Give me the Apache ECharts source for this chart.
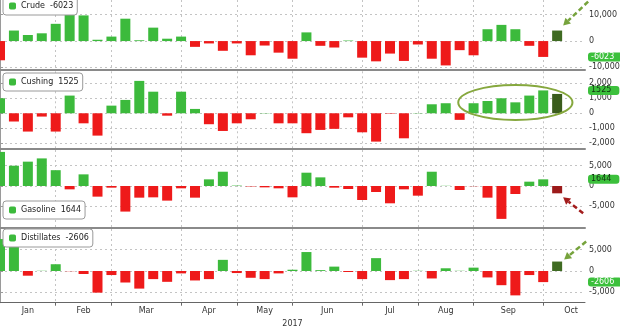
<!DOCTYPE html>
<html>
<head>
<meta charset="utf-8">
<script src="https://cdn.jsdelivr.net/npm/echarts@6/dist/echarts.min.js"></script>
<style>
  html, body { margin: 0; padding: 0; background: #fff; }
  #chart { width: 620px; height: 329px; }
</style>
</head>
<body>
<div id="chart"></div>
<script>
// weekly inventory changes, thousand barrels; week 0 = first week of Jan 2017
const crude = [-7300, 4000, 2300, 2950, 6550, 13800, 9750, 500, 1700, 8500, 300, 5100, 900, 1700,
  -2200, -900, -3700, -900, -5400, -1700, -4400, -6700, 3300, -1800, -2450, 200, -6300, -7700,
  -4750, -7550, -1300, -6700, -9250, -3450, -5400, 4500, 6150, 4500, -1800, -6023]
const cushing = [1000, -550, -1220, -220, -1220, 1180, -670, -1490, 510, 890, 2160, 1440, -160, 1440,
  290, -730, -1180, -670, -400, 20, -670, -670, -1330, -1110, -1040, -270, -1270, -1890,
  -30, -1670, 20, 600, 670, -440, 670, 820, 1000, 730, 1180, 1525]
const gasoline = [8400, 5000, 6000, 6800, 3900, -820, 2870, -2620, -410, -6300, -2870, -2790, -3600, -570,
  -2870, 1640, 3520, 100, -100, -330, -570, -2790, 3280, 2130, -410, -740, -3440, -1480,
  -4260, -820, -2380, 3520, 50, -980, -50, -2870, -8100, -1970, 1070, 1644]
const distillates = [7500, 8500, -1100, 50, 1590, -50, -710, -5080, -950, -2700, -4130, -1900, -2540, -560,
  -2220, -1900, 2620, -480, -1590, -1900, -560, 300, 4450, 200, 1030, -240, -1900, 3020,
  -2140, -1900, 50, -1750, 640, 50, 790, -1510, -3330, -5720, -950, -2606]

// latest print, drawn as the dark bar after the last week
const latestCrude = 4000
const latestCushing = 1290
const latestGasoline = -1800
const latestDistillates = 2220

const monthLabels = ['Jan', 'Feb', 'Mar', 'Apr', 'May', 'Jun', 'Jul', 'Aug', 'Sep', 'Oct']
const monthStarts = [0, 4, 8, 13, 17, 21, 26, 30, 34, 39, 43] // week index where each month begins
const crudeTicks = [-10000, 0, 10000]
const cushingTicks = [-2000, -1000, 0, 1000, 2000]
const gasolineTicks = [-5000, 0, 5000]
const distillatesTicks = [-5000, 0, 5000]

const GREEN = '#3cba3c'
const RED = '#ee1a1a'
const FONT = 'DejaVu Sans'
const GRID_COLOR = '#c4c4c4'

const panels = [
  { name: 'Crude', data: crude, latest: latestCrude, ticks: crudeTicks, dark: '#3f6b22',
    top: 0, height: 69.5, min: -10800, max: 15600, legendTop: -3, tagColor: '#fff' },
  { name: 'Cushing', data: cushing, latest: latestCushing, ticks: cushingTicks, dark: '#3a5c1c',
    top: 71.3, height: 77.2, min: -2350, max: 2800, legendTop: 73, tagColor: '#123312' },
  { name: 'Gasoline', data: gasoline, latest: latestGasoline, ticks: gasolineTicks, dark: '#9c1a1a',
    top: 150, height: 77.5, min: -10220, max: 8870, legendTop: 201, tagColor: '#123312' },
  { name: 'Distillates', data: distillates, latest: latestDistillates, ticks: distillatesTicks, dark: '#3f6b22',
    top: 229, height: 73.7, min: -7440, max: 9860, legendTop: 229, tagColor: '#fff' },
]

const gridLines = monthStarts.slice(1, -1)
const labelPos = monthLabels.map((m, i) => (monthStarts[i] + monthStarts[i + 1]) / 2)
const lastOf = (arr) => arr[arr.length - 1]

const myChart = echarts.init(document.getElementById('chart'))

const option = {
  animation: false,
  grid: panels.map((p) => ({ left: 0, right: 35, top: p.top, height: p.height, containLabel: false, outerBoundsMode: 'none' })),
  legend: panels.map((p) => ({
    data: [p.name],
    left: 3,
    top: p.legendTop,
    orient: 'horizontal',
    itemWidth: 7,
    itemHeight: 7,
    padding: [5, 4, 5, 6],
    backgroundColor: '#fff',
    borderColor: '#9a9a9a',
    borderWidth: 1,
    borderRadius: 3,
    selectedMode: false,
    formatter: (n) => n + '  ' + lastOf(p.data),
    textStyle: { fontFamily: FONT, fontSize: 8, color: '#222' },
  })),
  xAxis: panels.map((p, k) => ({
    type: 'value',
    gridIndex: k,
    min: 0,
    max: 42,
    name: k === 3 ? '2017' : '',
    nameLocation: 'middle',
    nameGap: 17,
    nameTextStyle: { fontFamily: FONT, fontSize: 8, color: '#333' },
    axisLine: { show: true, onZero: false, lineStyle: { color: k < 3 ? '#8a8a8a' : '#666', width: k < 3 ? 2 : 1 } },
    axisTick: { show: k === 3, customValues: gridLines, length: 3, lineStyle: { color: '#666' } },
    axisLabel: {
      show: k === 3,
      customValues: labelPos,
      formatter: (v) => monthLabels[labelPos.indexOf(v)] || '',
      fontFamily: FONT, fontSize: 8, color: '#333', margin: 4,
    },
    splitLine: { show: true, lineStyle: { color: GRID_COLOR, type: [2, 3] } },
  })),
  yAxis: panels.map((p, k) => ({
    type: 'value',
    gridIndex: k,
    position: 'right',
    min: p.min,
    max: p.max,
    axisLine: { show: true, lineStyle: { color: '#9a9a9a' } },
    axisTick: { show: true, customValues: p.ticks, length: 3, lineStyle: { color: '#9a9a9a' } },
    axisLabel: { customValues: p.ticks, fontFamily: FONT, fontSize: 8, color: '#333', margin: 4 },
    splitLine: { show: true, lineStyle: { color: GRID_COLOR, type: [2, 3] } },
  })),
  series: panels.map((p, k) => ({
    name: p.name,
    type: 'bar',
    xAxisIndex: k,
    yAxisIndex: k,
    barWidth: 10,
    itemStyle: { color: GREEN },
    data: p.data
      .map((v, i) => ({ value: [i, v], itemStyle: { color: v < 0 ? RED : GREEN } }))
      .concat([{ value: [p.data.length, p.latest], itemStyle: { color: p.dark } }]),
    markLine: {
      silent: true,
      symbol: ['none', 'none'],
      lineStyle: { color: 'rgba(0,0,0,0)' },
      label: {
        position: 'end',
        distance: 3,
        formatter: () => String(lastOf(p.data)),
        backgroundColor: '#3cc03c',
        color: p.tagColor,
        padding: [1, 8, 0, 3],
        borderRadius: 3,
        fontFamily: FONT,
        fontSize: 8,
      },
      data: [{ yAxis: lastOf(p.data) }],
    },
  })),
}

myChart.setOption(option)

// annotations: arrows toward the latest bar and the ring round the Cushing run
function arrow(tip, tail, color) {
  const dx = tip[0] - tail[0], dy = tip[1] - tail[1]
  const len = Math.sqrt(dx * dx + dy * dy)
  const ux = dx / len, uy = dy / len
  const b = [tip[0] - ux * 7, tip[1] - uy * 7]
  return [
    { type: 'line', shape: { x1: tail[0], y1: tail[1], x2: b[0], y2: b[1] },
      style: { stroke: color, lineWidth: 2.5, lineDash: [5, 3] }, z: 100 },
    { type: 'polygon', shape: { points: [tip, [b[0] - uy * 4, b[1] + ux * 4], [b[0] + uy * 4, b[1] - ux * 4]] },
      style: { fill: color }, z: 100 },
  ]
}

const pCrude = myChart.convertToPixel({ gridIndex: 0 }, [crude.length, latestCrude])
const pGas = myChart.convertToPixel({ gridIndex: 2 }, [gasoline.length, latestGasoline])
const pDist = myChart.convertToPixel({ gridIndex: 3 }, [distillates.length, latestDistillates])
const ringC = myChart.convertToPixel({ gridIndex: 1 }, [37, 720])
const ringL = myChart.convertToPixel({ gridIndex: 1 }, [32.9, 720])

const tipC = [pCrude[0] + 6, pCrude[1] - 5]
const tipG = [pGas[0] + 6, pGas[1] + 4]
const tipD = [pDist[0] + 7, pDist[1] - 2]

myChart.setOption({
  graphic: [
    ...arrow(tipC, [tipC[0] + 25, tipC[1] - 24], '#76a33c'),
    ...arrow(tipG, [tipG[0] + 20, tipG[1] + 16], '#a31c1c'),
    ...arrow(tipD, [tipD[0] + 22, tipD[1] - 18], '#76a33c'),
    { type: 'ellipse', shape: { cx: ringC[0], cy: ringC[1], rx: ringC[0] - ringL[0], ry: 17.5 },
      style: { fill: null, stroke: '#86a83e', lineWidth: 2 }, z: 100 },
  ],
})
</script>
</body>
</html>
